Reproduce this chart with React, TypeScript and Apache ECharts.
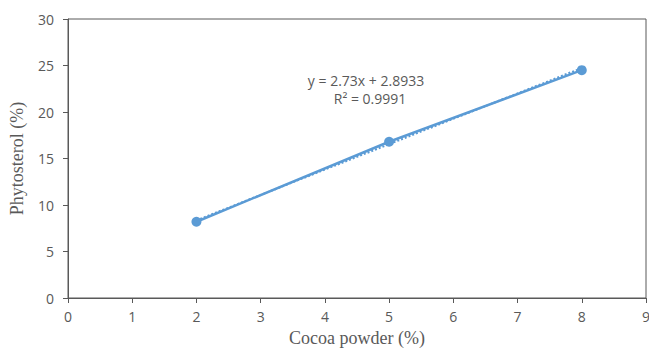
import React, { useEffect, useRef } from "react";
import * as echarts from "echarts";

const cocoaPowder = [2, 5, 8];
const phytosterol = [8.2, 16.8, 24.5];
const trendX = [2, 8];
const trendY = [8.35, 24.73];
const xTicks = [0, 1, 2, 3, 4, 5, 6, 7, 8, 9];
const equationText = "y = 2.73x + 2.8933";
const r2Text = "R² = 0.9991";

export default function App() {
  const ref = useRef<HTMLDivElement>(null);
  useEffect(() => {
    if (!ref.current) return;
    const chart = echarts.init(ref.current, undefined, { renderer: "svg" });
    const blue = "#5B9BD5";
    const axisColor = "#595959";
    chart.setOption({
      animation: false,
      grid: {
        left: 68,
        right: 3,
        top: 19,
        bottom: 52,
        outerBoundsMode: "none",
        containLabel: false,
        show: true,
        borderColor: axisColor,
        borderWidth: 1,
        backgroundColor: "transparent",
      },
      xAxis: {
        type: "value",
        min: xTicks[0],
        max: xTicks[xTicks.length - 1],
        interval: 1,
        name: "Cocoa powder (%)",
        nameLocation: "middle",
        nameGap: 31,
        nameTextStyle: { fontFamily: "Liberation Serif", fontSize: 18, color: axisColor },
        axisLine: { show: true, lineStyle: { color: axisColor, width: 1 } },
        axisTick: { show: true, length: 5, lineStyle: { color: axisColor } },
        axisLabel: { fontFamily: "Open Sans", fontSize: 14, color: axisColor, margin: 11 },
        splitLine: { show: false },
      },
      yAxis: {
        type: "value",
        min: 0,
        max: 30,
        interval: 5,
        name: "Phytosterol (%)",
        nameLocation: "middle",
        nameGap: 42,
        nameTextStyle: { fontFamily: "Liberation Serif", fontSize: 18, color: axisColor },
        axisLine: { show: true, lineStyle: { color: axisColor, width: 1 } },
        axisTick: { show: true, length: 5, lineStyle: { color: axisColor } },
        axisLabel: { fontFamily: "Open Sans", fontSize: 14, color: axisColor, margin: 14 },
        splitLine: { show: false },
      },
      graphic: [
        {
          type: "text",
          x: 366,
          y: 80,
          style: {
            text: equationText,
            fontFamily: "Open Sans",
            fontSize: 14,
            fill: axisColor,
            textAlign: "center",
            textVerticalAlign: "middle",
          },
        },
        {
          type: "text",
          x: 370,
          y: 98,
          style: {
            text: r2Text,
            fontFamily: "Open Sans",
            fontSize: 14,
            fill: axisColor,
            textAlign: "center",
            textVerticalAlign: "middle",
          },
        },
      ],
      series: [
        {
          type: "line",
          data: trendX.map((x, i) => [x, trendY[i]]),
          showSymbol: false,
          lineStyle: { color: blue, width: 2, type: "dotted" },
          z: 1,
        },
        {
          type: "line",
          data: cocoaPowder.map((x, i) => [x, phytosterol[i]]),
          symbol: "circle",
          symbolSize: 10,
          itemStyle: { color: blue },
          lineStyle: { color: blue, width: 2.5 },
          z: 2,
        },
      ],
    });
    return () => chart.dispose();
  }, []);
  return (
    <div
      ref={ref}
      style={{ position: "absolute", left: 0, top: 0, width: 649, height: 350 }}
    />
  );
}
